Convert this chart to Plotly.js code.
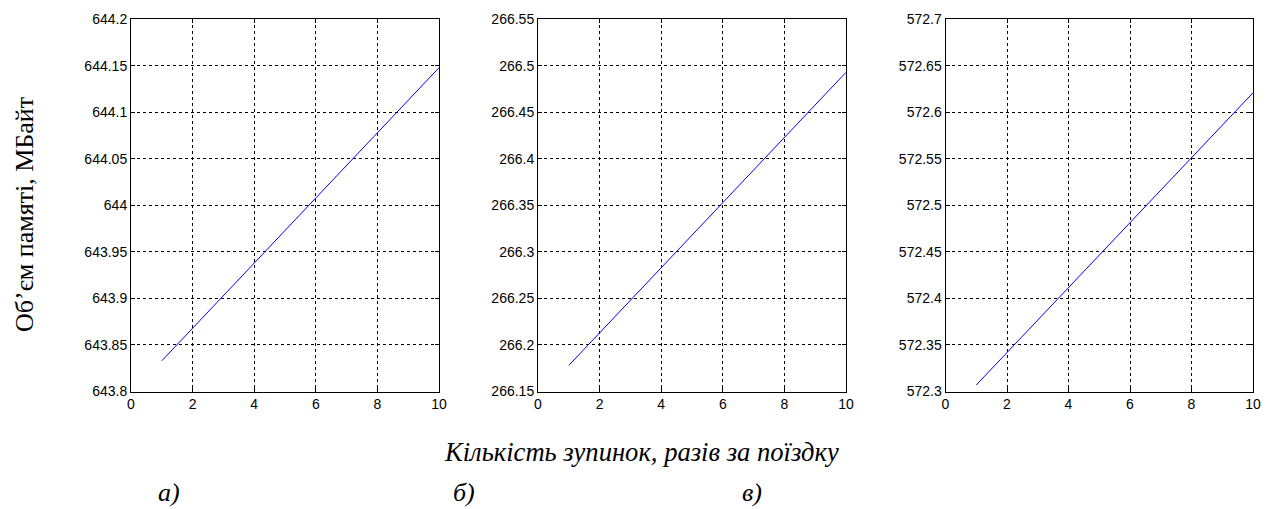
<!DOCTYPE html>
<html>
<head>
<meta charset="utf-8">
<script src="https://cdn.plot.ly/plotly-3.0.1.min.js"></script>
<style>html,body{margin:0;padding:0;background:#fff;}#chart{width:1272px;height:509px;}</style>
</head>
<body>
<div id="chart"></div>
<script>
// Data
const stops = [1, 2, 3, 4, 5, 6, 7, 8, 9, 10];
const memoryA = [643.833, 643.868, 643.903, 643.938, 643.973, 644.008, 644.043, 644.078, 644.113, 644.148];
const memoryB = [266.178, 266.213, 266.248, 266.283, 266.318, 266.353, 266.388, 266.423, 266.458, 266.493];
const memoryC = [572.307, 572.342, 572.377, 572.412, 572.447, 572.482, 572.516, 572.551, 572.586, 572.621];

const xTicks = [0, 2, 4, 6, 8, 10];
const yTicksA = [643.8, 643.85, 643.9, 643.95, 644, 644.05, 644.1, 644.15, 644.2];
const yTicksB = [266.15, 266.2, 266.25, 266.3, 266.35, 266.4, 266.45, 266.5, 266.55];
const yTicksC = [572.3, 572.35, 572.4, 572.45, 572.5, 572.55, 572.6, 572.65, 572.7];

const yTitle = "Об’єм памяті, МБайт";
const xTitle = "Кількість зупинок, разів за поїздку";
const panelLabels = ["а)", "б)", "в)"];

const W = 1272, H = 509;
const plotTop = 19.3, plotBottom = 391.5;
const yDom = [1 - plotBottom / H, 1 - plotTop / H];
const xDoms = [[131 / W, 439 / W], [538 / W, 846 / W], [945.5 / W, 1253 / W]];

const sans = "'Liberation Sans', Arial, sans-serif";
const serif = "'Liberation Serif', 'Times New Roman', serif";

function xAxis(dom) {
  return {
    domain: dom, range: [0, 10], tickvals: xTicks, ticktext: xTicks.map(String),
    showline: true, linecolor: '#000', linewidth: 1, mirror: 'ticks',
    ticks: 'inside', ticklen: 4, tickcolor: '#000',
    showgrid: true, gridcolor: '#000', gridwidth: 1, griddash: '3px,3px',
    zeroline: false, tickfont: {family: sans, size: 14, color: '#000'}
  };
}
function yAxis(ticks, anchor) {
  return {
    domain: yDom, range: [ticks[0], ticks[ticks.length - 1]], anchor: anchor,
    tickvals: ticks, ticktext: ticks.map(String),
    showline: true, linecolor: '#000', linewidth: 1, mirror: 'ticks',
    ticks: 'inside', ticklen: 4, tickcolor: '#000',
    showgrid: true, gridcolor: '#000', gridwidth: 1, griddash: '3px,3px',
    zeroline: false, tickfont: {family: sans, size: 14, color: '#000'}
  };
}

const lineStyle = {color: '#0000ff', width: 1};
const data = [
  {x: stops, y: memoryA, xaxis: 'x', yaxis: 'y', mode: 'lines', line: lineStyle},
  {x: stops, y: memoryB, xaxis: 'x2', yaxis: 'y2', mode: 'lines', line: lineStyle},
  {x: stops, y: memoryC, xaxis: 'x3', yaxis: 'y3', mode: 'lines', line: lineStyle}
];

const layout = {
  width: W, height: H,
  margin: {l: 0, r: 0, t: 0, b: 0},
  paper_bgcolor: '#fff', plot_bgcolor: '#fff',
  showlegend: false,
  font: {family: sans},
  xaxis: Object.assign(xAxis(xDoms[0]), {anchor: 'y'}),
  xaxis2: Object.assign(xAxis(xDoms[1]), {anchor: 'y2'}),
  xaxis3: Object.assign(xAxis(xDoms[2]), {anchor: 'y3'}),
  yaxis: yAxis(yTicksA, 'x'),
  yaxis2: yAxis(yTicksB, 'x2'),
  yaxis3: yAxis(yTicksC, 'x3'),
  annotations: [
    {text: yTitle, xref: 'paper', yref: 'paper', x: 25 / W, y: 1 - 215 / H, textangle: -90,
     showarrow: false, xanchor: 'center', yanchor: 'middle', font: {family: serif, size: 26, color: '#000'}},
    {text: '<i>' + xTitle + '</i>', xref: 'paper', yref: 'paper', x: 641 / W, y: 1 - 452 / H,
     showarrow: false, xanchor: 'center', yanchor: 'middle', font: {family: serif, size: 26.6, color: '#000'}},
    {text: '<i>' + panelLabels[0] + '</i>', xref: 'paper', yref: 'paper', x: 169 / W, y: 1 - 492 / H,
     showarrow: false, xanchor: 'center', yanchor: 'middle', font: {family: serif, size: 26, color: '#000'}},
    {text: '<i>' + panelLabels[1] + '</i>', xref: 'paper', yref: 'paper', x: 464 / W, y: 1 - 492 / H,
     showarrow: false, xanchor: 'center', yanchor: 'middle', font: {family: serif, size: 26, color: '#000'}},
    {text: '<i>' + panelLabels[2] + '</i>', xref: 'paper', yref: 'paper', x: 752 / W, y: 1 - 492 / H,
     showarrow: false, xanchor: 'center', yanchor: 'middle', font: {family: serif, size: 26, color: '#000'}}
  ]
};

Plotly.newPlot('chart', data, layout, {staticPlot: true, displayModeBar: false});
</script>
</body>
</html>
